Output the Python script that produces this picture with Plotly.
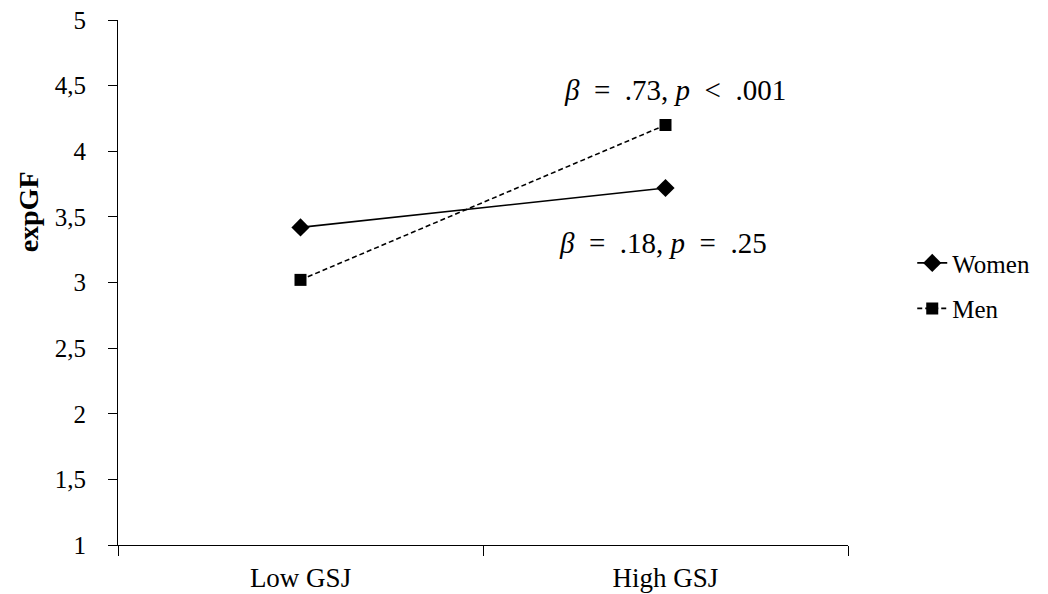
import plotly.graph_objects as go

categories = ["Low GSJ", "High GSJ"]
women = [3.42, 3.72]
men = [3.02, 4.20]
y_ticks = [1, 1.5, 2, 2.5, 3, 3.5, 4, 4.5, 5]
y_title = "expGF"
annot_men = "<i>β</i>\u2002=\u2002.73, <i>p</i>\u2002<\u2002.001"
annot_women = "<i>β</i>\u2002=\u2002.18, <i>p</i>\u2002=\u2002.25"

FONT = "Liberation Serif, Times New Roman, serif"

fig = go.Figure()
fig.add_trace(go.Scatter(
    x=categories, y=women, name="Women", mode="lines+markers", legendgroup="w",
    line=dict(color="black", width=1.6),
    marker=dict(symbol="diamond", size=14, color="black"),
))
fig.add_trace(go.Scatter(
    x=categories, y=men, name="Men", mode="lines+markers", legendgroup="m",
    line=dict(color="black", width=1.6, dash="5px,3px"),
    marker=dict(symbol="square", size=12, color="black"),
))

fig.add_annotation(x=0.763, y=0.867, xref="paper", yref="paper", text=annot_men,
                   xanchor="center", yanchor="middle",
                   showarrow=False, font=dict(family=FONT, size=29, color="black"))
fig.add_annotation(x=0.747, y=0.575, xref="paper", yref="paper", text=annot_women,
                   xanchor="center", yanchor="middle",
                   showarrow=False, font=dict(family=FONT, size=29, color="black"))
fig.add_annotation(x=-0.123, y=0.634, xref="paper", yref="paper",
                   text="<b>" + y_title + "</b>", textangle=-90,
                   xanchor="center", yanchor="middle",
                   showarrow=False, font=dict(family=FONT, size=28, color="black"))

fig.update_layout(
    width=1048, height=594,
    margin=dict(l=110, r=208, t=12, b=57, autoexpand=False),
    paper_bgcolor="white", plot_bgcolor="white",
    separators=",.",
    font=dict(family=FONT, size=26, color="black"),
    showlegend=True,
    legend=dict(x=1.088, y=0.494, xanchor="left", yanchor="middle",
                font=dict(family=FONT, size=25, color="black"),
                tracegroupgap=10, bgcolor="rgba(0,0,0,0)"),
    xaxis=dict(
        type="category", range=[-0.5, 1.5], showgrid=False, showline=True,
        linecolor="black", linewidth=1, automargin=False,
        ticks="outside", tickson="boundaries", ticklen=10, tickcolor="black",
        tickfont=dict(family=FONT, size=27), zeroline=False, ticklabelstandoff=9,
        ticklabeloverflow="allow",
    ),
    yaxis=dict(
        range=[1, 5], tickvals=y_ticks, showgrid=False, showline=True, linecolor="black",
        linewidth=1, ticks="outside", ticklen=9, tickcolor="black", zeroline=False,
        automargin=False, ticklabeloverflow="allow",
        tickfont=dict(family=FONT, size=25), ticklabelstandoff=17,
        tickformat=".1~f",
    ),
)

fig.write_html("out.html")
